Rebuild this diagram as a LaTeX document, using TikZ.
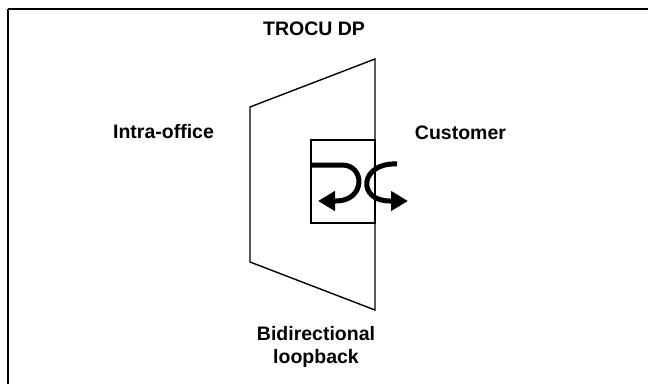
\documentclass[tikz,border=0pt]{standalone}
\usepackage{fontspec}
\setmainfont{Liberation Sans}
\usetikzlibrary{arrows.meta}
\begin{document}
\begin{tikzpicture}[x=1pt,y=-1pt,
    lbl/.style={font=\fontsize{19.5}{23}\selectfont\bfseries, inner sep=0pt, anchor=base, align=center},
    outline/.style={line width=1.4pt, line join=miter},
    loop/.style={line width=5pt, -{Triangle[length=17pt,width=19pt]}}]
  \useasboundingbox (0,0) rectangle (648,383);
  % outer frame, running off the right and bottom edges
  \draw[line width=2pt] (8,9) -- (8,400) (8,9) -- (700,9);

  % distribution point body and the loopback box
  \draw[outline] (250,107) coordinate (tl) -- (375,59) coordinate (tr)
        -- (375,310) coordinate (br) -- (250,262) coordinate (bl) -- cycle;
  \node[draw, outline, minimum width=64pt, minimum height=83pt, inner sep=0pt]
        (lb) at (343,181.5) {};

  % bidirectional loopback arrows
  \coordinate (a1s) at (311,165);
  \coordinate (a1e) at (318,201);
  \draw[loop] (a1s) -- (342,165) .. controls (365.5,165) and (365.5,201) .. (336,201) -- (a1e);
  \coordinate (a2s) at (397,164);
  \coordinate (a2e) at (408,201);
  \draw[loop] (a2s) .. controls (360,162) and (356,201) .. (390,201) -- (a2e);

  % labels
  \node[lbl] (title) at (314,35) {TROCU DP};
  \node[lbl] (intra) at (163.5,138) {Intra-office};
  \node[lbl] (cust) at (460.5,139) {Customer};
  \node[lbl] (bidir) at (316,363) {Bidirectional\\loopback};
\end{tikzpicture}
\end{document}
